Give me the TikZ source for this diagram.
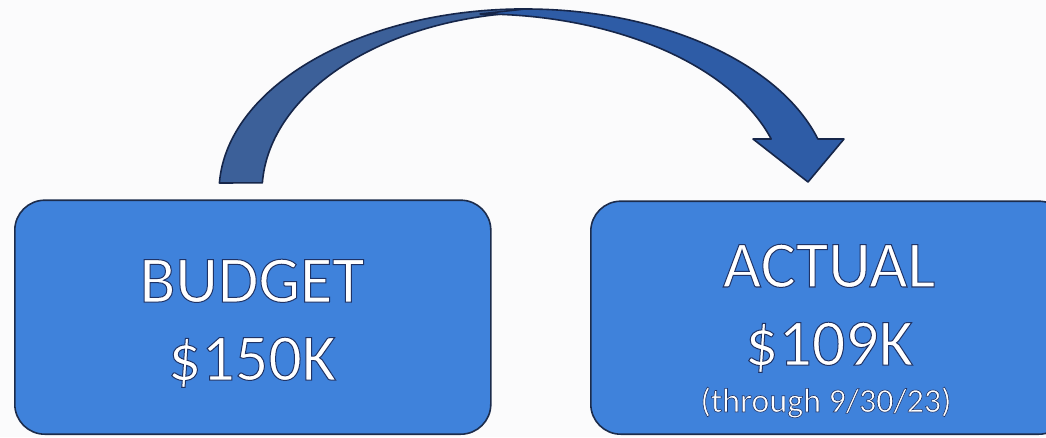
\documentclass[tikz,border=0pt]{standalone}
\usepackage{fontspec}
\setmainfont{Carlito}
\definecolor{boxblue}{HTML}{3F82DB}
\definecolor{boxedge}{HTML}{1C2C4C}
\definecolor{arrowback}{HTML}{3C6099}
\definecolor{arrowfront}{HTML}{2E5CA6}
\definecolor{arrowedge}{HTML}{16264A}
\definecolor{bg}{HTML}{FBFBFC}
\newcommand{\outlined}[2][1.0]{\special{pdf:code 2 Tr 0.12 0.2 0.4 RG #1 w}#2\special{pdf:code 0 Tr}}
\begin{document}
\begin{tikzpicture}[x=1pt,y=1pt,
  box/.style={draw=boxedge, line width=1.6pt, fill=boxblue, rounded corners=30pt, inner sep=0pt},
  bigtext/.style={text=white, font=\fontsize{66}{78}\selectfont, anchor=base, inner sep=0pt},
  smalltext/.style={text=white, font=\fontsize{34}{40}\selectfont, anchor=base, inner sep=0pt},
  arrowpart/.style={draw=arrowedge, line width=1.6pt, line join=round}]
\useasboundingbox (0,0) rectangle (1046,437);
\clip (0,0) rectangle (1046,437);
\fill[bg] (0,0) rectangle (1046,437);
% boxes
\node[box, minimum width=476, minimum height=234, anchor=south west] (budget) at (14,2) {};
\node[box, minimum width=478, minimum height=233, anchor=south west] (actual) at (590,2) {};
% texts
\node[bigtext] (budgetlabel) at (252,135) {\outlined{BUDGET}};
\node[bigtext] (budgetvalue) at (252,57) {\outlined{\$150K}};
\node[bigtext] (actuallabel) at (829,150) {\outlined{ACTUAL}};
\node[bigtext] (actualvalue) at (829,72) {\outlined{\$109K}};
\node[smalltext] (actualnote) at (826,25) {\outlined[0.6]{(through 9/30/23)}};
% curved arrow: back (left) part
\coordinate (tailout) at (219.4,254);
\coordinate (tailin) at (262.4,254);
\coordinate (tip) at (808,255);
\filldraw[arrowpart, fill=arrowback]
  (tailout) arc[start angle=177.2, end angle=90, x radius=306, y radius=183]
  -- (525,424.6) arc[start angle=94.05, end angle=177.1, x radius=283, y radius=180]
  -- cycle;
% curved arrow: front (right) part with head
\filldraw[arrowpart, fill=arrowfront]
  (525,428) arc[start angle=90, end angle=16.83, x radius=306, y radius=183]
  -- (844,298) -- (tip) -- (753,298) -- (771.2,298)
  arc[start angle=17.32, end angle=90, x radius=305, y radius=178]
  -- cycle;
\end{tikzpicture}
\end{document}
